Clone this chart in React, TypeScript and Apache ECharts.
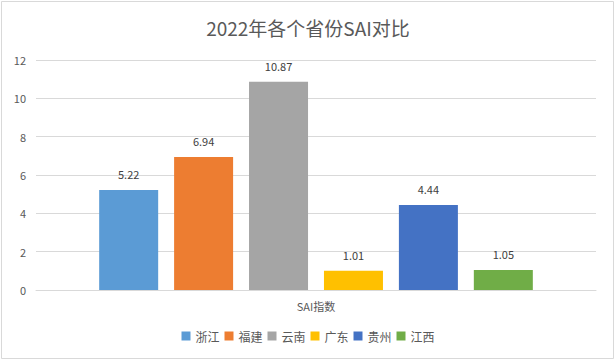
import React, { useEffect, useRef } from "react";
import * as echarts from "echarts";

const categories = ["SAI指数"];
const provinces = ["浙江", "福建", "云南", "广东", "贵州", "江西"];
const values = [5.22, 6.94, 10.87, 1.01, 4.44, 1.05];
const colors = ["#5B9BD5", "#ED7D31", "#A5A5A5", "#FFC000", "#4472C4", "#70AD47"];
const titleText = "2022年各个省份SAI对比";

export default function App() {
  const ref = useRef<HTMLDivElement>(null);
  useEffect(() => {
    if (!ref.current) return;
    const chart = echarts.init(ref.current, null, { renderer: "svg" });
    const font = "'Noto Sans CJK SC', 'Noto Sans', sans-serif";
    chart.setOption({
      animation: false,
      backgroundColor: "#ffffff",
      textStyle: { fontFamily: font },
      title: {
        text: titleText,
        left: "center",
        top: 13,
        textStyle: { fontSize: 19, fontWeight: "normal", color: "#595959", fontFamily: font },
      },
      graphic: [
        {
          type: "rect",
          shape: { x: 1.5, y: 1.5, width: 612, height: 357 },
          style: { fill: "none", stroke: "#d9d9d9", lineWidth: 1 },
          silent: true,
        },
      ],
      legend: {
        bottom: 16,
        left: "center",
        icon: "rect",
        itemWidth: 9,
        itemHeight: 9,
        itemGap: 5,
        textStyle: { fontSize: 12, color: "#595959", fontFamily: font },
        data: provinces,
      },
      grid: { left: 36, right: 20, top: 60, bottom: 73 },
      xAxis: {
        type: "category",
        data: categories,
        axisLine: { lineStyle: { color: "#d9d9d9" } },
        axisTick: { show: false },
        axisLabel: { color: "#595959", fontSize: 11, margin: 10, fontFamily: font },
      },
      yAxis: {
        type: "value",
        min: 0,
        max: 12,
        interval: 2,
        axisLine: { show: false },
        axisTick: { show: false },
        splitLine: { lineStyle: { color: "#d9d9d9" } },
        axisLabel: { color: "#595959", fontSize: 11, margin: 10, fontFamily: font },
      },
      series: provinces.map((p, i) => ({
        name: p,
        type: "bar",
        data: [values[i]],
        barWidth: 59,
        barGap: "27%",
        itemStyle: { color: colors[i] },
        label: {
          show: true,
          position: "top",
          distance: 10,
          color: "#404040",
          fontSize: 11,
          fontFamily: font,
          formatter: (d: any) => d.value.toFixed(2),
        },
      })),
    });
    return () => chart.dispose();
  }, []);
  return (
    <div
      ref={ref}
      style={{ position: "absolute", left: 0, top: 0, width: 616, height: 363 }}
    />
  );
}
